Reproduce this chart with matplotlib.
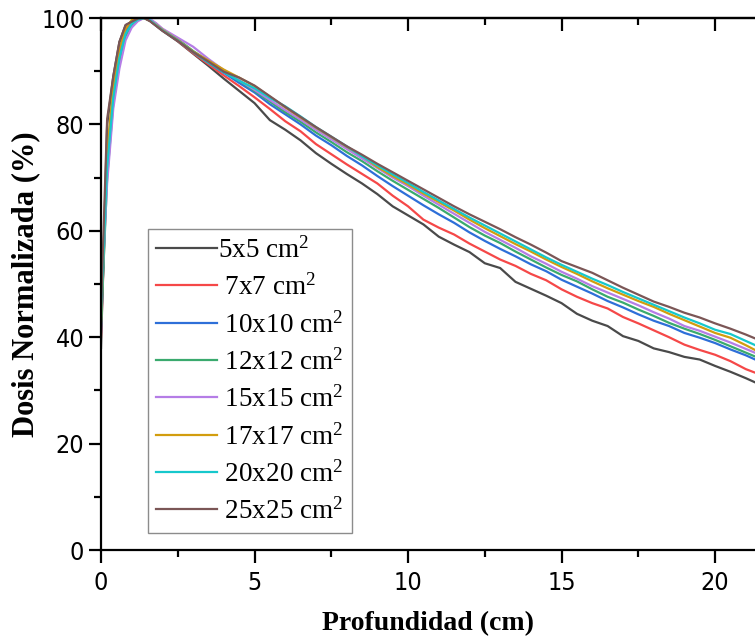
import matplotlib
matplotlib.use("Agg")
import matplotlib.pyplot as plt
from matplotlib.ticker import MultipleLocator
from matplotlib import font_manager as fm

depth = [0, 0.2, 0.4, 0.6, 0.8, 1.0, 1.2, 1.4, 1.6, 1.8, 2.0, 2.5, 3.0, 3.5, 4.0, 4.5,
         5.0, 5.5, 6.0, 6.5, 7.0, 7.5, 8.0, 8.5, 9.0, 9.5, 10.0, 10.5, 11.0, 11.5, 12.0,
         12.5, 13.0, 13.5, 14.0, 14.5, 15.0, 15.5, 16.0, 16.5, 17.0, 17.5, 18.0, 18.5,
         19.0, 19.5, 20.0, 20.5, 21.0, 21.5]

pdd_5x5 = [38, 80, 89, 95.5, 98.6, 99.3, 99.8, 100, 99.4, 98.5, 97.6, 95.6, 93.3, 91.0, 88.6, 86.3,
           84.0, 80.8, 79.0, 77.0, 74.6, 72.6, 70.7, 68.9, 66.9, 64.6, 62.9, 61.2, 58.9, 57.4, 56.0,
           53.9, 53.0, 50.4, 49.1, 47.8, 46.4, 44.4, 43.1, 42.1, 40.2, 39.3, 37.9, 37.2,
           36.3, 35.8, 34.6, 33.5, 32.3, 31.0]
pdd_7x7 = [40, 73, 86, 93.5, 97.6, 99.1, 99.8, 100, 99.6, 98.7, 97.8, 95.7, 93.4, 91.3, 89.2, 87.2,
           85.1, 82.9, 80.6, 78.7, 76.3, 74.4, 72.5, 70.7, 68.9, 66.6, 64.6, 62.1, 60.6, 59.3, 57.6,
           56.1, 54.6, 53.4, 51.9, 50.7, 49.0, 47.6, 46.4, 45.4, 43.8, 42.6, 41.3, 40.0,
           38.6, 37.6, 36.7, 35.5, 34.0, 32.9]
pdd_10x10 = [41, 74, 86.5, 93, 97.2, 98.9, 99.7, 100, 99.6, 98.8, 97.8, 95.9, 93.6, 91.6, 89.7, 87.8,
             86.0, 83.8, 81.9, 80.0, 77.9, 76.1, 74.1, 72.3, 70.3, 68.4, 66.6, 64.8, 63.1, 61.5, 59.7,
             58.1, 56.6, 55.2, 53.7, 52.4, 50.8, 49.5, 48.2, 46.8, 45.6, 44.3, 43.1, 42.1,
             40.8, 39.9, 38.9, 37.7, 36.6, 35.3]
pdd_12x12 = [42, 70, 84, 91.5, 96.5, 98.6, 99.6, 100, 99.7, 98.9, 97.9, 96.0, 93.8, 91.9, 90.0, 88.2,
             86.3, 84.3, 82.3, 80.5, 78.5, 76.7, 74.8, 73.1, 71.2, 69.4, 67.7, 66.0, 64.3, 62.5, 60.7,
             59.1, 57.7, 56.1, 54.6, 53.1, 51.7, 50.5, 49.0, 47.6, 46.5, 45.2, 44.0, 42.7,
             41.6, 40.6, 39.5, 38.3, 37.1, 35.9]
pdd_15x15 = [46, 69, 83, 90.5, 95.8, 98.2, 99.4, 100, 99.8, 99.0, 98.0, 96.3, 94.6, 92.3, 90.2, 88.3,
             86.5, 84.6, 82.7, 80.9, 79.0, 77.2, 75.4, 73.6, 71.8, 70.0, 68.4, 66.6, 64.9, 63.2, 61.5,
             59.8, 58.3, 56.8, 55.2, 53.8, 52.3, 51.0, 49.6, 48.4, 47.2, 46.0, 44.7, 43.5,
             42.1, 41.2, 40.1, 39.0, 37.8, 36.6]
pdd_17x17 = [43, 75, 87, 94, 98.0, 99.6, 100, 100, 99.5, 98.7, 97.8, 95.9, 93.7, 92.0, 90.3, 88.8,
             87.2, 85.2, 83.2, 81.3, 79.4, 77.6, 75.8, 74.1, 72.0, 70.3, 68.7, 67.0, 65.4, 63.8, 62.1,
             60.5, 59.0, 57.5, 56.1, 54.6, 53.2, 51.9, 50.5, 49.2, 48.0, 46.8, 45.7, 44.4,
             43.2, 42.0, 40.8, 39.9, 38.5, 37.0]
pdd_20x20 = [44, 72, 85, 92.5, 97.0, 98.9, 99.7, 100, 99.6, 98.6, 97.7, 95.8, 93.6, 91.6, 89.8, 88.2,
             86.8, 85.0, 83.4, 81.5, 79.5, 77.7, 75.9, 74.0, 72.3, 70.6, 69.0, 67.3, 65.7, 64.1, 62.5,
             61.0, 59.5, 58.0, 56.5, 55.0, 53.6, 52.3, 51.0, 49.8, 48.5, 47.3, 46.1, 44.9,
             43.7, 42.6, 41.4, 40.6, 39.3, 38.0]
pdd_25x25 = [45, 81, 89, 95.5, 98.7, 99.3, 99.9, 100, 99.4, 98.5, 97.6, 95.7, 93.6, 91.8, 89.9, 88.8,
             87.3, 85.3, 83.3, 81.4, 79.5, 77.7, 75.9, 74.3, 72.6, 71.0, 69.4, 67.8, 66.2, 64.6, 63.1,
             61.7, 60.3, 58.8, 57.4, 55.9, 54.3, 53.2, 52.1, 50.7, 49.3, 48.0, 46.7, 45.7,
             44.6, 43.7, 42.6, 41.6, 40.5, 39.3]

labels = ["5x5 cm$^2$", " 7x7 cm$^2$", " 10x10 cm$^2$", " 12x12 cm$^2$",
          " 15x15 cm$^2$", " 17x17 cm$^2$", " 20x20 cm$^2$", " 25x25 cm$^2$"]
series = [pdd_5x5, pdd_7x7, pdd_10x10, pdd_12x12, pdd_15x15, pdd_17x17, pdd_20x20, pdd_25x25]
colors = ["#4a4a4a", "#f54848", "#2e6fd8", "#3aaa6e", "#b57de6", "#d29d0e", "#16c8cc", "#7b5656"]

plt.rcParams['font.family'] = ['Liberation Serif', 'DejaVu Serif']
plt.rcParams['mathtext.fontset'] = 'custom'
plt.rcParams['mathtext.rm'] = 'Liberation Serif'
plt.rcParams['mathtext.it'] = 'Liberation Serif:italic'
plt.rcParams['mathtext.bf'] = 'Liberation Serif:bold'

# pick a condensed sans for tick labels if available
cond = None
for f in fm.fontManager.ttflist:
    if 'Narrow' in f.name or ('Condensed' in f.name) or (f.name == 'DejaVu Sans' and f.stretch == 'condensed'):
        if f.weight in (400, 'normal', 'regular') and f.style == 'normal':
            cond = f
            break

fig = plt.figure(figsize=(7.55, 6.38), dpi=100)
ax = fig.add_axes([101/755, 88/638, 654/755, 532/638])

for y, lab, c in zip(series, labels, colors):
    ax.plot(depth, y, color=c, lw=1.6, label=lab)

ax.set_xlim(0, 21.3)
ax.set_ylim(0, 100)
ax.xaxis.set_major_locator(MultipleLocator(5))
ax.xaxis.set_minor_locator(MultipleLocator(2.5))
ax.yaxis.set_major_locator(MultipleLocator(20))
ax.yaxis.set_minor_locator(MultipleLocator(10))

for s in ['left', 'bottom', 'top']:
    ax.spines[s].set_linewidth(1.6)
ax.spines['right'].set_visible(False)

ax.tick_params(which='major', direction='out', length=9, width=1.6)
ax.tick_params(which='minor', direction='out', length=5, width=1.6)
if cond is not None:
    tprop = fm.FontProperties(fname=cond.fname, size=18)
else:
    tprop = fm.FontProperties(family=['Liberation Sans', 'DejaVu Sans'], size=16)
for lab in ax.get_xticklabels() + ax.get_yticklabels():
    lab.set_fontproperties(tprop)
ax.tick_params(axis='x', pad=6)
ax.tick_params(axis='y', pad=3)

sec = ax.secondary_xaxis('top')
sec.xaxis.set_major_locator(MultipleLocator(5))
sec.xaxis.set_minor_locator(MultipleLocator(2.5))
sec.tick_params(which='major', direction='in', length=9, width=1.6, labeltop=False)
sec.tick_params(which='minor', direction='in', length=5, width=1.6, labeltop=False)
sec.spines['top'].set_linewidth(1.6)

ax.set_xlabel("Profundidad (cm)", fontsize=20, fontweight='bold', labelpad=12)
ax.set_ylabel("Dosis Normalizada (%)", fontsize=22, fontweight='bold')
ax.yaxis.set_label_coords(-0.093, 0.5)

leg = ax.legend(loc='upper left', bbox_to_anchor=(47/654, 321/532), borderaxespad=0,
                fontsize=19.5, frameon=True, fancybox=False, handlelength=2.25,
                handletextpad=0.05, labelspacing=0.4, borderpad=0.3)
leg.get_frame().set_edgecolor('#707070')
leg.get_frame().set_linewidth(1.0)

fig.savefig("out.png", dpi=100)
